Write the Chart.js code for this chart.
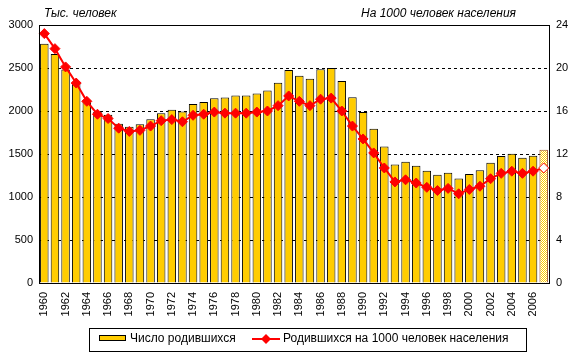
<!DOCTYPE html>
<html>
<head>
<meta charset="utf-8">
<script src="https://cdn.jsdelivr.net/npm/chart.js@4/dist/chart.umd.min.js"></script>
<style>
  html, body { margin: 0; padding: 0; background: #fff; }
  #wrap { position: relative; width: 575px; height: 360px; }
</style>
</head>
<body>
<div id="wrap"><canvas id="births" width="575" height="360"></canvas></div>
<script>
// годы
var years = [];
for (var y = 1960; y <= 2007; y++) years.push(String(y));

// число родившихся, тыс. человек
var births = [2782, 2662, 2482, 2331, 2121, 1991, 1957, 1852, 1817, 1847,
              1904, 1975, 2015, 1995, 2080, 2106, 2147, 2156, 2179, 2179,
              2203, 2237, 2329, 2478, 2409, 2375, 2486, 2500, 2348, 2161,
              1989, 1795, 1588, 1379, 1409, 1364, 1305, 1260, 1283, 1215,
              1267, 1312, 1397, 1477, 1502, 1457, 1480, 1550];

// родившихся на 1000 человек населения
var rate = [23.2, 21.8, 20.1, 18.6, 16.9, 15.7, 15.3, 14.4, 14.1, 14.2,
            14.6, 15.1, 15.2, 15.0, 15.6, 15.7, 15.9, 15.8, 15.8, 15.8,
            15.9, 16.0, 16.5, 17.4, 16.9, 16.5, 17.1, 17.2, 16.0, 14.6,
            13.4, 12.1, 10.7, 9.4, 9.6, 9.3, 8.9, 8.6, 8.8, 8.3,
            8.7, 9.0, 9.7, 10.2, 10.4, 10.2, 10.4, 10.7];

var leftTicks = [0, 500, 1000, 1500, 2000, 2500, 3000];
var rightTicks = [0, 4, 8, 12, 16, 20, 24];

var FONT = 'Arial, "Liberation Sans", sans-serif';

// последний (предварительный) год — точечная заливка
var pc = document.createElement('canvas');
pc.width = 2; pc.height = 2;
var px = pc.getContext('2d');
px.fillStyle = '#ffffff'; px.fillRect(0, 0, 2, 2);
px.fillStyle = '#FFCC00'; px.fillRect(0, 0, 1, 1); px.fillRect(1, 1, 1, 1);
var ctx = document.getElementById('births').getContext('2d');
var dots = ctx.createPattern(pc, 'repeat');

var n = years.length;
var barFill = births.map(function (v, i) { return i === n - 1 ? dots : '#FFCC00'; });
var barBorder = births.map(function (v, i) { return i === n - 1 ? '#A0522D' : '#000000'; });
var ptFill = rate.map(function (v, i) { return i === n - 1 ? '#ffffff' : '#FF0000'; });

var extras = {
  id: 'extras',
  afterDatasetsDraw: function (chart) {
    var c = chart.ctx, a = chart.chartArea;
    c.save();
    c.strokeStyle = '#000'; c.lineWidth = 1; c.setLineDash([]);
    c.strokeRect(Math.round(a.left) + 0.5, Math.round(a.top) + 0.5,
                 Math.round(a.right - a.left), Math.round(a.bottom - a.top));
    c.restore();
  },
  afterDraw: function (chart) {
    var c = chart.ctx;
    c.save();
    c.fillStyle = '#000';
    c.font = 'italic 12px ' + FONT;
    c.textBaseline = 'middle';
    c.textAlign = 'left';
    c.fillText('Тыс. человек', 44, 14);
    c.textAlign = 'right';
    c.fillText('На 1000 человек населения', 516, 14);

    // легенда
    c.strokeStyle = '#000'; c.lineWidth = 1;
    c.strokeRect(89.5, 328.5, 437, 23);
    c.fillStyle = '#FFCC00';
    c.fillRect(99.5, 335.5, 26, 5);
    c.strokeRect(99.5, 335.5, 26, 5);
    c.font = '12px ' + FONT;
    c.textAlign = 'left';
    c.fillStyle = '#000';
    c.fillText('Число родившихся', 130, 339);
    c.strokeStyle = '#FF0000'; c.lineWidth = 2;
    c.beginPath(); c.moveTo(252, 339); c.lineTo(280, 339); c.stroke();
    c.fillStyle = '#FF0000';
    c.beginPath(); c.moveTo(266, 334); c.lineTo(271, 339); c.lineTo(266, 344); c.lineTo(261, 339); c.closePath(); c.fill();
    c.fillStyle = '#000';
    c.fillText('Родившихся на 1000 человек населения', 283, 339);
    c.restore();
  }
};

new Chart(ctx, {
  type: 'bar',
  data: {
    labels: years,
    datasets: [{
      type: 'line',
      label: 'Родившихся на 1000 человек населения',
      data: rate,
      yAxisID: 'y1',
      borderColor: '#FF0000',
      borderWidth: 2,
      pointStyle: 'rectRot',
      pointRadius: 5,
      pointBackgroundColor: ptFill,
      pointBorderColor: '#FF0000',
      pointBorderWidth: 1,
      tension: 0,
      order: 0
    }, {
      label: 'Число родившихся',
      data: births,
      yAxisID: 'y',
      backgroundColor: barFill,
      borderColor: barBorder,
      borderWidth: 1,
      barPercentage: 0.8,
      categoryPercentage: 1.0,
      order: 1
    }]
  },
  options: {
    responsive: false,
    animation: false,
    layout: { padding: { top: 25, left: 0, right: 0, bottom: 0 } },
    plugins: { legend: { display: false }, tooltip: { enabled: false } },
    scales: {
      x: {
        offset: true,
        grid: { display: false, drawTicks: false },
        border: { display: true, color: '#000' },
        ticks: {
          autoSkip: false, maxRotation: 90, minRotation: 90, padding: 9,
          color: '#000', font: { family: FONT, size: 11 },
          callback: function (v, i) { return i % 2 === 0 ? years[i] : ''; }
        },
        afterFit: function (s) { s.height = 77; }
      },
      y: {
        position: 'left',
        min: 0, max: 3000,
        afterBuildTicks: function (s) { s.ticks = leftTicks.map(function (v) { return { value: v }; }); },
        grid: { color: '#000', lineWidth: 1, drawTicks: false },
        border: { display: true, color: '#000', dash: [3, 3] },
        ticks: {
          color: '#000', padding: 6, font: { family: FONT, size: 11 },
          callback: function (v) { return String(v); }
        },
        afterFit: function (s) { s.width = 39; }
      },
      y1: {
        position: 'right',
        min: 0, max: 24,
        afterBuildTicks: function (s) { s.ticks = rightTicks.map(function (v) { return { value: v }; }); },
        grid: { display: false, drawTicks: false },
        border: { display: true, color: '#000' },
        ticks: {
          color: '#000', padding: 7, font: { family: FONT, size: 11 },
          callback: function (v) { return String(v); }
        },
        afterFit: function (s) { s.width = 26; }
      }
    }
  },
  plugins: [extras]
});
</script>
</body>
</html>
